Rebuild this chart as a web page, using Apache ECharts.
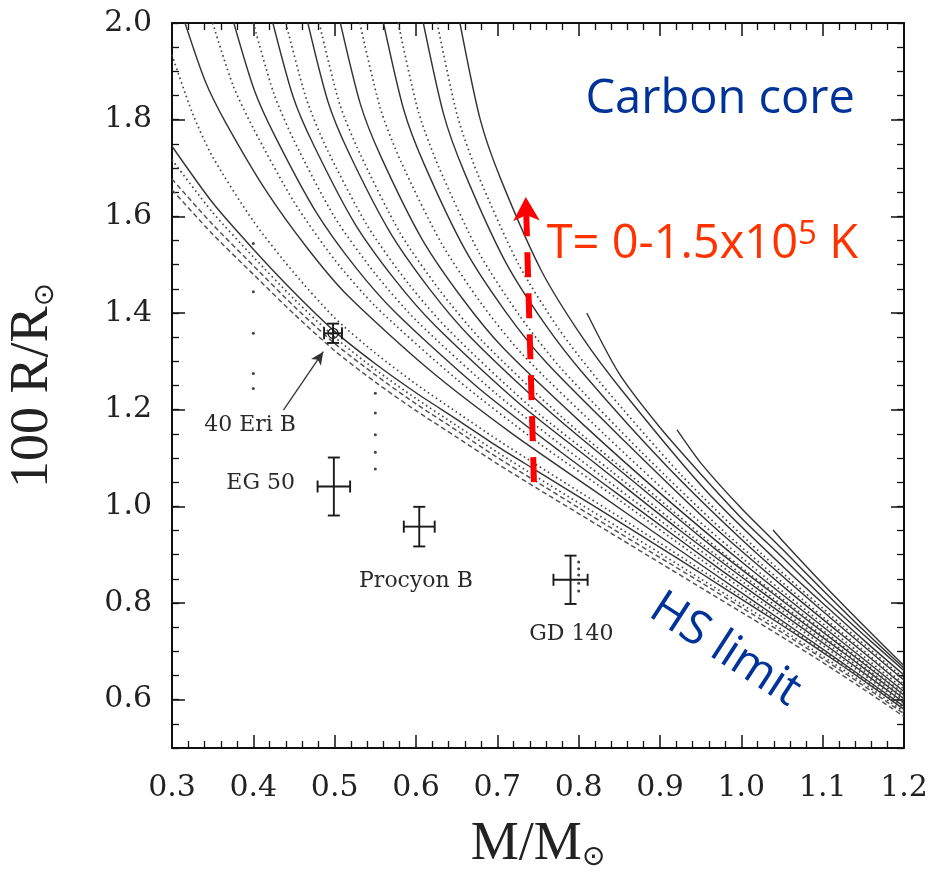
<!DOCTYPE html>
<html><head><meta charset="utf-8">
<script src="https://cdn.jsdelivr.net/npm/echarts@6/dist/echarts.min.js"></script>
<style>html,body{margin:0;padding:0;background:#fff}#c{width:935px;height:878px}</style>
</head><body><div id="c"></div>
<script>
// ---- tick values ----
const xTickLabels = [0.3,0.4,0.5,0.6,0.7,0.8,0.9,1.0,1.1,1.2];
const yTickLabels = [0.6,0.8,1.0,1.2,1.4,1.6,1.8,2.0];
const yMinorTicks = [0.5,0.55,0.6,0.65,0.7,0.75,0.8,0.85,0.9,0.95,1.0,1.05,1.1,1.15,1.2,1.25,1.3,1.35,1.4,1.45,1.5,1.55,1.6,1.65,1.7,1.75,1.8,1.85,1.9,1.95,2.0];

// ---- mass-radius curves [M/Msun, 100 R/Rsun] ----
const hsA = [[0.3,1.655],[0.35,1.563],[0.4,1.48],[0.45,1.398],[0.5,1.322],[0.55,1.257],[0.6,1.198],[0.65,1.143],[0.7,1.088],[0.75,1.036],[0.8,0.985],[0.85,0.934],[0.9,0.883],[0.95,0.832],[1.0,0.781],[1.05,0.73],[1.1,0.677],[1.15,0.622],[1.2,0.565]];
const hsB = [[0.3,1.677],[0.35,1.583],[0.4,1.498],[0.45,1.414],[0.5,1.337],[0.55,1.272],[0.6,1.212],[0.65,1.157],[0.7,1.101],[0.75,1.049],[0.8,0.997],[0.85,0.945],[0.9,0.894],[0.95,0.843],[1.0,0.791],[1.05,0.739],[1.1,0.685],[1.15,0.629],[1.2,0.571]];
const dotC = [[0.3,1.717],[0.35,1.608],[0.4,1.516],[0.45,1.429],[0.5,1.35],[0.55,1.283],[0.6,1.223],[0.65,1.167],[0.7,1.112],[0.75,1.059],[0.8,1.007],[0.85,0.955],[0.9,0.903],[0.95,0.85],[1.0,0.798],[1.05,0.745],[1.1,0.69],[1.15,0.634],[1.2,0.575]];
const solD = [[0.3,1.745],[0.35,1.628],[0.4,1.532],[0.45,1.443],[0.5,1.362],[0.55,1.295],[0.6,1.235],[0.65,1.18],[0.7,1.124],[0.75,1.072],[0.8,1.02],[0.85,0.968],[0.9,0.915],[0.95,0.862],[1.0,0.808],[1.05,0.754],[1.1,0.698],[1.15,0.64],[1.2,0.58]];
const dotE = [[0.3,1.934],[0.325,1.814],[0.35,1.723],[0.4,1.59],[0.45,1.483],[0.5,1.39],[0.55,1.317],[0.6,1.253],[0.65,1.195],[0.7,1.138],[0.75,1.084],[0.8,1.031],[0.85,0.978],[0.9,0.924],[0.95,0.869],[1.0,0.814],[1.05,0.758],[1.1,0.701],[1.15,0.643],[1.2,0.583]];
const S1 = [[0.316,2.0],[0.341,1.879],[0.366,1.794],[0.416,1.652],[0.466,1.535],[0.516,1.436],[0.616,1.283],[0.716,1.153],[0.816,1.036],[0.916,0.919],[1.016,0.803],[1.116,0.686],[1.2,0.586]];
const D1 = [[0.35,2.0],[0.375,1.871],[0.4,1.782],[0.45,1.63],[0.5,1.51],[0.55,1.414],[0.65,1.263],[0.75,1.132],[0.85,1.013],[0.95,0.89],[1.05,0.772],[1.15,0.652],[1.2,0.591]];
const S2 = [[0.376,2.0],[0.401,1.862],[0.426,1.768],[0.476,1.612],[0.526,1.494],[0.576,1.399],[0.676,1.246],[0.776,1.115],[0.876,0.991],[0.976,0.867],[1.076,0.747],[1.176,0.624],[1.2,0.594]];
const D2 = [[0.4,2.0],[0.425,1.855],[0.45,1.757],[0.5,1.598],[0.55,1.481],[0.6,1.385],[0.7,1.231],[0.8,1.099],[0.9,0.971],[1.0,0.846],[1.1,0.723],[1.2,0.598]];
const S3 = [[0.424,2.0],[0.449,1.847],[0.474,1.748],[0.524,1.587],[0.574,1.469],[0.624,1.373],[0.724,1.217],[0.824,1.084],[0.924,0.951],[1.024,0.824],[1.124,0.699],[1.2,0.602]];
const D3 = [[0.44,2.0],[0.465,1.844],[0.49,1.741],[0.54,1.581],[0.59,1.462],[0.64,1.365],[0.74,1.207],[0.84,1.073],[0.94,0.937],[1.04,0.809],[1.14,0.682],[1.2,0.605]];
const S4 = [[0.467,2.0],[0.492,1.836],[0.517,1.733],[0.567,1.57],[0.617,1.449],[0.667,1.35],[0.767,1.192],[0.867,1.052],[0.967,0.913],[1.067,0.783],[1.167,0.653],[1.2,0.609]];
const D4 = [[0.481,2.0],[0.506,1.833],[0.531,1.73],[0.581,1.564],[0.631,1.443],[0.681,1.343],[0.781,1.182],[0.881,1.04],[0.981,0.899],[1.081,0.769],[1.181,0.637],[1.2,0.612]];
const S5 = [[0.507,2.0],[0.532,1.83],[0.557,1.723],[0.607,1.554],[0.657,1.43],[0.707,1.328],[0.807,1.167],[0.907,1.017],[1.007,0.876],[1.107,0.742],[1.2,0.617]];
const D5 = [[0.531,2.0],[0.556,1.824],[0.581,1.715],[0.631,1.545],[0.681,1.418],[0.731,1.314],[0.831,1.15],[0.931,0.994],[1.031,0.851],[1.131,0.716],[1.2,0.622]];
const S6 = [[0.56,2.0],[0.585,1.82],[0.61,1.708],[0.66,1.532],[0.71,1.403],[0.76,1.298],[0.86,1.129],[0.96,0.967],[1.06,0.822],[1.16,0.684],[1.2,0.628]];
const D6 = [[0.578,2.0],[0.603,1.816],[0.628,1.702],[0.678,1.523],[0.728,1.393],[0.778,1.286],[0.878,1.111],[0.978,0.949],[1.078,0.803],[1.178,0.663],[1.2,0.632]];
const S7 = [[0.609,2.0],[0.634,1.811],[0.659,1.693],[0.709,1.509],[0.759,1.376],[0.809,1.268],[0.909,1.082],[1.009,0.918],[1.109,0.77],[1.2,0.64]];
const D7 = [[0.626,2.0],[0.651,1.807],[0.676,1.687],[0.726,1.501],[0.776,1.366],[0.826,1.257],[0.926,1.065],[1.026,0.9],[1.126,0.751],[1.2,0.644]];
const S8 = [[0.654,2.0],[0.679,1.8],[0.704,1.678],[0.754,1.488],[0.804,1.351],[0.854,1.238],[0.954,1.037],[1.054,0.871],[1.154,0.718],[1.2,0.651]];
const seg1 = [[0.81,1.4],[0.85,1.274],[0.9,1.163],[0.95,1.067],[1.0,0.976],[1.05,0.895],[1.1,0.812],[1.15,0.735],[1.2,0.66]];
const seg2 = [[0.921,1.158],[0.95,1.09],[1.0,0.996],[1.05,0.912],[1.1,0.827],[1.15,0.744],[1.2,0.665]];
const seg3 = [[1.039,0.951],[1.05,0.93],[1.1,0.84],[1.15,0.754],[1.2,0.67]];

// sparse dotted tracks
const dotsM040 = [[0.4,1.544],[0.4,1.444],[0.4,1.358],[0.4,1.275],[0.4,1.244]];
const dotsM055 = [[0.55,1.234],[0.55,1.193],[0.55,1.148],[0.55,1.112],[0.55,1.077]];
const dotsGD = [[0.8,0.885],[0.8,0.871],[0.8,0.858],[0.8,0.841],[0.8,0.825]];

// observed white dwarfs
const starName = ['40 Eri B','EG 50','Procyon B','GD 140'];
const starM = [0.498, 0.499, 0.604, 0.790];
const starR = [1.358, 1.041, 0.958, 0.848];
const starErrM = [0.011, 0.020, 0.019, 0.021];
const starErrR = [0.020, 0.060, 0.041, 0.050];

// ---- styles ----
const STY = {
  solid: {color:'#333333', width:1.4, type:'solid'},
  dotted: {color:'#474747', width:1.7, type:[1.6,3.2]},
  dashed: {color:'#555555', width:1.5, type:[5,3]}
};
function curve(name, data, kind){
  return {name, type:'line', data, xAxisIndex:0, yAxisIndex:0, symbol:'none', showSymbol:false,
    smooth:0.25, clip:true, silent:true, z:3,
    lineStyle:Object.assign({}, STY[kind])};
}
function dots(data){
  return {type:'scatter', data, symbol:'circle', symbolSize:3, itemStyle:{color:'#444', opacity:1}, silent:true, z:3};
}

const serif = 'DejaVu Serif';
const titleFont = 'Liberation Serif';
const noteFont = 'Open Sans';
const blue = '#003399';
const orange = '#ff3300';
const noBorder = {textBorderWidth:0, textBorderColor:'transparent', textShadowBlur:0, opacity:1};

const axisLineSty = {show:true, lineStyle:{color:'#111', width:2}};

const option = {
  animation:false,
  backgroundColor:'#fff',
  grid:{left:172, right:31, top:23, bottom:130, containLabel:false, outerBoundsMode:'none'},
  xAxis:[
    {type:'value', min:0.3, max:1.2, interval:0.1, position:'bottom',
     axisLine:axisLineSty,
     axisTick:{show:true, inside:true, length:13, lineStyle:{color:'#111', width:1.5}},
     minorTick:{show:true, splitNumber:5, length:7, lineStyle:{color:'#111', width:1.3}},
     splitLine:{show:false}, minorSplitLine:{show:false},
     axisLabel:{margin:25, fontFamily:serif, fontSize:30, color:'#222', formatter:v=>v.toFixed(1)},
     name:'M/M{s|⊙}', nameLocation:'middle', nameGap:70,
     nameTextStyle:{fontFamily:titleFont, fontSize:54, color:'#222', lineHeight:54,
       rich:{s:{fontFamily:'DejaVu Sans', fontSize:28, color:'#222', verticalAlign:'bottom', lineHeight:6}}}},
    {type:'value', min:0.3, max:1.2, interval:0.1, position:'top',
     axisLine:axisLineSty,
     axisTick:{show:true, inside:true, length:13, lineStyle:{color:'#111', width:1.5}},
     minorTick:{show:true, splitNumber:5, length:7, lineStyle:{color:'#111', width:1.3}},
     splitLine:{show:false}, axisLabel:{show:false}}
  ],
  yAxis:[
    {type:'value', min:0.5, max:2.0, position:'left',
     axisLine:axisLineSty,
     axisTick:{show:true, inside:true, length:7, customValues:yMinorTicks, lineStyle:{color:'#111', width:1.3}},
     splitLine:{show:false},
     axisLabel:{margin:20, customValues:yTickLabels, fontFamily:serif, fontSize:30, color:'#222', formatter:v=>v.toFixed(1)},
     name:'100 R/R{s|⊙}', nameLocation:'middle', nameGap:112, nameRotate:90,
     nameTextStyle:{fontFamily:titleFont, fontSize:54, color:'#222', lineHeight:54,
       rich:{s:{fontFamily:'DejaVu Sans', fontSize:28, color:'#222', verticalAlign:'bottom', lineHeight:6}}}},
    {type:'value', min:0.5, max:2.0, position:'left',
     axisLine:{show:false},
     axisTick:{show:true, inside:true, length:13, customValues:yTickLabels, lineStyle:{color:'#111', width:1.5}},
     splitLine:{show:false}, axisLabel:{show:false}},
    {type:'value', min:0.5, max:2.0, position:'right',
     axisLine:axisLineSty,
     axisTick:{show:true, inside:true, length:7, customValues:yMinorTicks, lineStyle:{color:'#111', width:1.3}},
     splitLine:{show:false}, axisLabel:{show:false}},
    {type:'value', min:0.5, max:2.0, position:'right',
     axisLine:{show:false},
     axisTick:{show:true, inside:true, length:13, customValues:yTickLabels, lineStyle:{color:'#111', width:1.5}},
     splitLine:{show:false}, axisLabel:{show:false}}
  ],
  series:[
    curve('HS A', hsA, 'dashed'),
    curve('HS B', hsB, 'dashed'),
    curve('C', dotC, 'dotted'),
    curve('D', solD, 'solid'),
    curve('E', dotE, 'dotted'),
    curve('S1', S1, 'solid'), curve('D1', D1, 'dotted'),
    curve('S2', S2, 'solid'), curve('D2', D2, 'dotted'),
    curve('S3', S3, 'solid'), curve('D3', D3, 'dotted'),
    curve('S4', S4, 'solid'), curve('D4', D4, 'dotted'),
    curve('S5', S5, 'solid'), curve('D5', D5, 'dotted'),
    curve('S6', S6, 'solid'), curve('D6', D6, 'dotted'),
    curve('S7', S7, 'solid'), curve('D7', D7, 'dotted'),
    curve('S8', S8, 'solid'),
    curve('seg1', seg1, 'solid'), curve('seg2', seg2, 'solid'), curve('seg3', seg3, 'solid'),
    dots(dotsM040), dots(dotsM055), dots(dotsGD),
    {type:'custom', name:'stars', silent:true, z:5,
     data: starName.map((n,i)=>[starM[i], starR[i], starErrM[i], starErrR[i]]),
     encode:{x:0, y:1},
     renderItem:function(params, api){
       const m=api.value(0), r=api.value(1), em=api.value(2), er=api.value(3);
       const L=api.coord([m-em,r]), R=api.coord([m+em,r]), T=api.coord([m,r+er]), B=api.coord([m,r-er]), C=api.coord([m,r]);
       const cap=6, st={stroke:'#1a1a1a', lineWidth:1.9, fill:null};
       const seg=(a,b,c,d)=>({type:'line', shape:{x1:a,y1:b,x2:c,y2:d}, style:st});
       const ch=[seg(L[0],L[1],R[0],R[1]), seg(T[0],T[1],B[0],B[1]),
         seg(L[0],L[1]-cap,L[0],L[1]+cap), seg(R[0],R[1]-cap,R[0],R[1]+cap),
         seg(T[0]-cap,T[1],T[0]+cap,T[1]), seg(B[0]-cap,B[1],B[0]+cap,B[1])];
       if(params.dataIndex===0){ ch.push({type:'circle', shape:{cx:C[0], cy:C[1], r:5}, style:{stroke:'#1a1a1a', lineWidth:1.3, fill:null}}); }
       return {type:'group', children:ch};
     }},
    {type:'scatter', name:'star labels', silent:true, symbolSize:0, z:6, itemStyle:{opacity:1},
     data:[
       {name:starName[0], value:[0.396,1.168]},
       {name:starName[1], value:[0.409,1.048]},
       {name:starName[2], value:[0.600,0.845]},
       {name:starName[3], value:[0.791,0.736]}
     ],
     label:Object.assign({show:true, position:'inside', formatter:p=>p.name, fontFamily:serif, fontSize:22, color:'#2a2a2a'}, noBorder)},
    {type:'line', name:'pointer', data:[], silent:true, z:6,
     markLine:{silent:true, symbol:['none','arrow'], symbolSize:[9,13], label:{show:false},
       lineStyle:{color:'#333', width:1.3, type:'solid'},
       data:[[{coord:[0.437,1.199]},{coord:[0.486,1.32]}]]}},
    {type:'line', name:'T arrow', data:[], silent:true, z:6,
     markLine:{silent:true, symbol:['none','arrow'], symbolSize:[20,24], label:{show:false},
       lineStyle:{color:'#ff0000', width:6, type:[25,16], opacity:1},
       data:[[{coord:[0.745,1.05]},{coord:[0.735,1.64]}]]}},
    {type:'scatter', name:'notes', silent:true, symbolSize:0, z:7, itemStyle:{opacity:1},
     data:[
       {name:'carbon', value:[0.974,1.841], label:Object.assign({formatter:'Carbon core', color:blue, fontSize:47}, noBorder)},
       {name:'temp', value:[0.952,1.541], label:Object.assign({formatter:'{a|T= 0-1.5x10}{b|5}{a| K}',
          rich:{a:Object.assign({fontFamily:noteFont, fontSize:47, color:orange, lineHeight:54}, noBorder), b:Object.assign({fontFamily:noteFont, fontSize:33, color:orange, verticalAlign:'top', lineHeight:36}, noBorder)}}, noBorder)},
       {name:'hs', value:[0.980,0.703], label:Object.assign({formatter:'HS limit', color:blue, fontSize:47, rotate:-33}, noBorder)}
     ],
     label:Object.assign({show:true, position:'inside', fontFamily:noteFont}, noBorder)}
  ]
};
const chart = echarts.init(document.getElementById('c'), null, {renderer:'canvas'});
chart.setOption(option);
</script>
</body></html>
